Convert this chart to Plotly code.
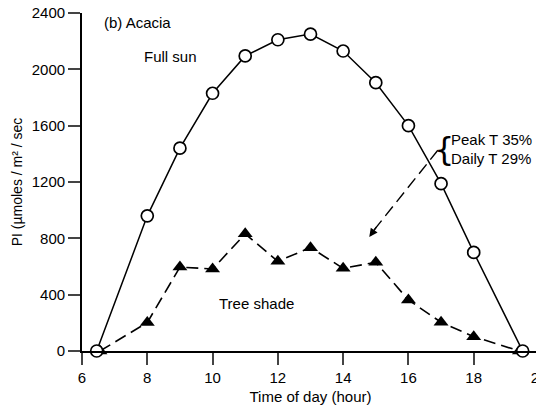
import plotly.graph_objects as go

# Data
sun_hours = [6.45, 8, 9, 10, 11, 12, 13, 14, 15, 16, 17, 18, 19.5]
sun_pi = [0, 960, 1440, 1830, 2095, 2210, 2250, 2130, 1905, 1600, 1188, 700, 0]
shade_hours = [6.55, 8, 9, 10, 11, 12, 13, 14, 15, 16, 17, 18, 19.4]
shade_pi = [0, 202, 596, 582, 832, 637, 734, 587, 630, 362, 204, 102, 0]
x_ticks = [6, 8, 10, 12, 14, 16, 18, 20]
y_ticks = [0, 400, 800, 1200, 1600, 2000, 2400]

FONT = "Liberation Sans, Arial, Helvetica, sans-serif"

fig = go.Figure()
fig.add_trace(go.Scatter(
    x=shade_hours, y=shade_pi, mode="lines+markers", name="Tree shade",
    line=dict(color="black", width=1.6, dash="12px,6px"),
    marker=dict(symbol="triangle-up", size=13, color="black"),
    cliponaxis=False,
))
fig.add_trace(go.Scatter(
    x=sun_hours, y=sun_pi, mode="lines+markers", name="Full sun",
    line=dict(color="black", width=1.5),
    marker=dict(symbol="circle", size=12, color="white", line=dict(color="black", width=1.7)),
    cliponaxis=False,
))

# dashed arrow from the brace to the shade curve
fig.add_shape(type="line", x0=16.9, y0=1425, x1=14.95, y1=860,
              line=dict(color="black", width=1.4, dash="12px,6px"))
fig.add_annotation(x=14.8, y=810, ax=15.05, ay=890, axref="x", ayref="y",
                   xref="x", yref="y", text="", showarrow=True,
                   arrowhead=2, arrowsize=1.2, arrowwidth=1.4, arrowcolor="black")

fig.add_annotation(x=17.08, y=1435, xref="x", yref="y", text="{", showarrow=False,
                   font=dict(family="DejaVu Sans, sans-serif", size=32, color="black"),
                   xanchor="center", yanchor="middle")
fig.add_annotation(x=17.24, y=1500, xref="x", yref="y", text="Peak T 35%", showarrow=False,
                   font=dict(family=FONT, size=15, color="black"), xanchor="left", yanchor="middle")
fig.add_annotation(x=17.24, y=1365, xref="x", yref="y", text="Daily T 29%", showarrow=False,
                   font=dict(family=FONT, size=15, color="black"), xanchor="left", yanchor="middle")

fig.add_annotation(x=6.6, y=2330, xref="x", yref="y", text="(b) Acacia", showarrow=False,
                   font=dict(family=FONT, size=15, color="black"), xanchor="left", yanchor="middle")
fig.add_annotation(x=7.85, y=2090, xref="x", yref="y", text="Full sun", showarrow=False,
                   font=dict(family=FONT, size=15, color="black"), xanchor="left", yanchor="middle")
fig.add_annotation(x=11.34, y=334, xref="x", yref="y", text="Tree shade", showarrow=False,
                   font=dict(family=FONT, size=15, color="black"), xanchor="center", yanchor="middle")

fig.update_layout(
    width=536, height=400,
    margin=dict(l=74, r=5, t=5, b=57),
    paper_bgcolor="white", plot_bgcolor="white",
    showlegend=False,
    font=dict(family=FONT, size=15, color="black"),
    xaxis=dict(range=[6, 20], tickvals=x_ticks, ticks="outside", ticklen=12, tickwidth=1.5,
               showline=True, linecolor="black", linewidth=1.8, showgrid=False, zeroline=False,
               automargin=False, ticklabeloverflow="allow",
               title=dict(text="Time of day (hour)", font=dict(size=15), standoff=7),
               tickfont=dict(size=15)),
    yaxis=dict(range=[0, 2400], tickvals=y_ticks, ticks="outside", ticklen=12, tickwidth=1.5,
               showline=True, linecolor="black", linewidth=1.8, showgrid=False, zeroline=False,
               automargin=False, ticklabeloverflow="allow",
               title=dict(text="PI (µmoles / m² / sec", font=dict(size=14), standoff=6),
               tickfont=dict(size=15)),
)

fig.write_html("out.html")
